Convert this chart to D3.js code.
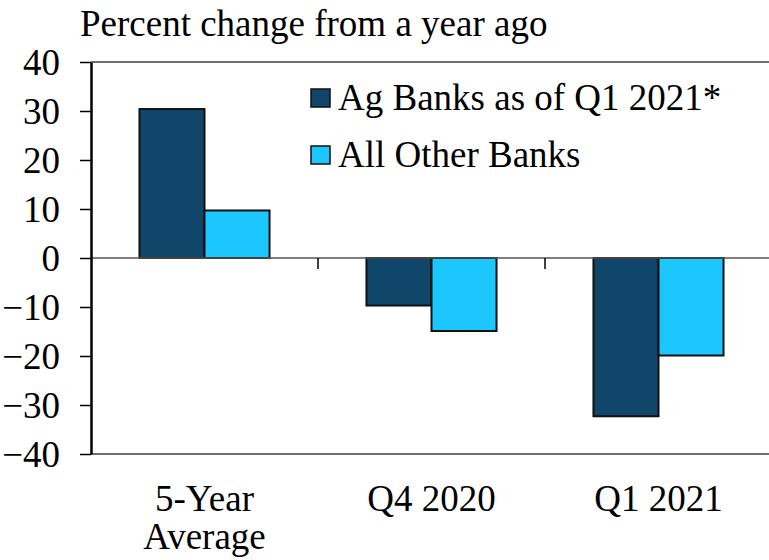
<!DOCTYPE html>
<html>
<head>
<meta charset="utf-8">
<script src="https://cdn.jsdelivr.net/npm/d3@7"></script>
<style>
  body { margin: 0; background: #fff; }
  svg text { font-family: "Liberation Serif", "Times New Roman", serif; fill: #000; }
</style>
</head>
<body>
<svg id="chart"></svg>
<script>
// data
const categories = ["5-Year Average", "Q4 2020", "Q1 2021"];
const categoryLines = [["5-Year", "Average"], ["Q4 2020"], ["Q1 2021"]];
const seriesNames = ["Ag Banks as of Q1 2021*", "All Other Banks"];
const agBanks = [30.4, -9.7, -32.3];
const otherBanks = [9.7, -14.9, -19.9];
const yTicks = [-40, -30, -20, -10, 0, 10, 20, 30, 40];
const colors = ["#10466a", "#1cc6ff"];

const width = 769, height = 560;
const margin = { top: 62, right: -3, bottom: 106, left: 91 };
const fontSize = 37;

const svg = d3.select("#chart")
    .attr("width", width)
    .attr("height", height);

const innerW = width - margin.left - margin.right;
const innerH = height - margin.top - margin.bottom;

const chart = svg.append("g")
    .attr("transform", `translate(${margin.left},${margin.top})`);

const x0 = d3.scaleBand()
    .domain(categories)
    .range([0, innerW])
    .paddingInner(0.427)
    .paddingOuter(0.2135);

const x1 = d3.scaleBand()
    .domain(seriesNames)
    .range([0, x0.bandwidth()]);

const y = d3.scaleLinear()
    .domain([-40, 40])
    .range([innerH, 0]);

const rows = categories.map((c, i) => ({ cat: c, values: [agBanks[i], otherBanks[i]] }));

// frame lines at top and bottom
chart.selectAll(".frame")
    .data([40, -40])
    .join("line")
    .attr("class", "frame")
    .attr("x1", 0).attr("x2", innerW)
    .attr("y1", d => y(d)).attr("y2", d => y(d))
    .attr("stroke", "#404040")
    .attr("stroke-width", 1.5);

// bars
const groups = chart.selectAll(".group")
    .data(rows)
    .join("g")
    .attr("class", "group")
    .attr("transform", d => `translate(${x0(d.cat)},0)`);

groups.selectAll("rect")
    .data(d => d.values.map((v, i) => ({ key: seriesNames[i], value: v, i: i })))
    .join("rect")
    .attr("x", d => x1(d.key))
    .attr("width", x1.bandwidth())
    .attr("y", d => y(Math.max(0, d.value)))
    .attr("height", d => Math.abs(y(d.value) - y(0)))
    .attr("fill", d => colors[d.i])
    .attr("stroke", "#111")
    .attr("stroke-width", 2);

// zero line
chart.append("line")
    .attr("x1", 0).attr("x2", innerW)
    .attr("y1", y(0)).attr("y2", y(0))
    .attr("stroke", "#555")
    .attr("stroke-width", 1.5);

// category ticks between groups
const step = x0.step();
chart.selectAll(".ctick")
    .data(d3.range(1, categories.length))
    .join("line")
    .attr("class", "ctick")
    .attr("x1", d => d * step).attr("x2", d => d * step)
    .attr("y1", y(0)).attr("y2", y(0) + 11)
    .attr("stroke", "#000")
    .attr("stroke-width", 1.5);

// y axis
const yAxisG = chart.append("g")
    .call(d3.axisLeft(y).tickValues(yTicks).tickSize(11).tickSizeOuter(0));

yAxisG.select(".domain")
    .attr("stroke", "#000")
    .attr("stroke-width", 2.5);

yAxisG.selectAll(".tick line")
    .attr("stroke", "#000")
    .attr("stroke-width", 1.5);

yAxisG.selectAll(".tick text")
    .attr("x", -31)
    .attr("dy", "0.34em")
    .style("font-size", fontSize + "px")
    .style("font-family", "Liberation Serif, Times New Roman, serif");

// category labels
const catText = chart.selectAll(".cat")
    .data(categories)
    .join("text")
    .attr("class", "cat")
    .attr("text-anchor", "middle")
    .attr("transform", d => `translate(${x0(d) + x0.bandwidth() / 2},${511 - margin.top})`)
    .style("font-size", fontSize + "px");

catText.selectAll("tspan")
    .data((d, i) => categoryLines[i])
    .join("tspan")
    .attr("x", 0)
    .attr("y", (d, i) => i * 38)
    .text(d => d);

// title
svg.append("text")
    .attr("x", 80)
    .attr("y", 36)
    .style("font-size", fontSize + "px")
    .text("Percent change from a year ago");

// legend
const legend = svg.append("g")
    .attr("transform", "translate(311,89)");

const legendItem = legend.selectAll(".item")
    .data(seriesNames)
    .join("g")
    .attr("class", "item")
    .attr("transform", (d, i) => `translate(0,${i * 57})`);

legendItem.append("rect")
    .attr("width", 19)
    .attr("height", 18)
    .attr("fill", (d, i) => colors[i])
    .attr("stroke", "#111")
    .attr("stroke-width", 1.5);

legendItem.append("text")
    .attr("x", 27)
    .attr("y", 21)
    .style("font-size", fontSize + "px")
    .text(d => d);
</script>
</body>
</html>
